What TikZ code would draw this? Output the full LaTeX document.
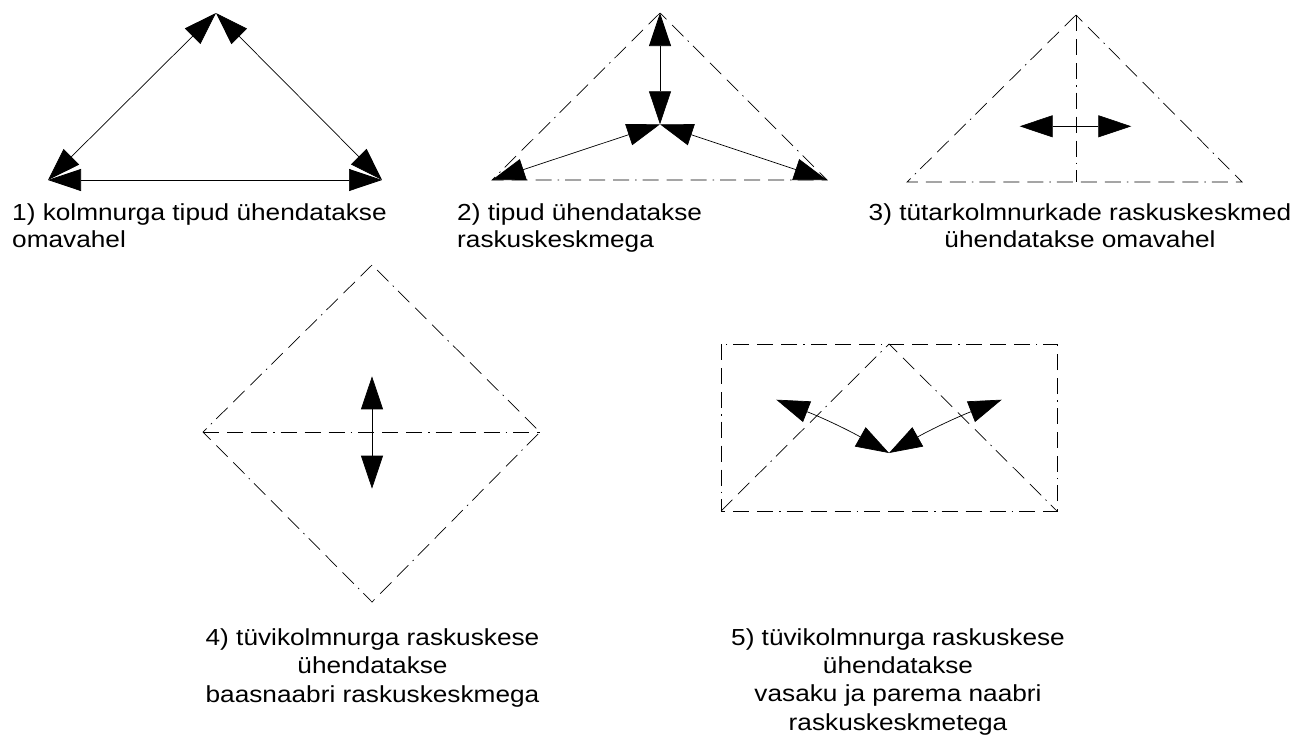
\documentclass[tikz,border=0pt]{standalone}
\usepackage{fontspec}
\setmainfont{Liberation Sans}
\newfontfamily\lblfont[FakeStretch=1.13]{Liberation Sans}
\usetikzlibrary{arrows.meta}
\begin{document}
\begin{tikzpicture}[x=1pt,y=-1pt,
  arr/.style={line width=0.7pt,{Triangle[length=33pt,width=22pt]}-{Triangle[length=33pt,width=22pt]}},
  dd/.style={line width=0.7pt,dash pattern=on 16pt off 8pt on 16pt off 8pt on 16pt off 6pt on 1.5pt off 6pt},
  lbl/.style={inner sep=0pt,font=\lblfont\fontsize{23.2}{26.7}\selectfont},
  lblb/.style={inner sep=0pt,font=\lblfont\fontsize{23.2}{28.3}\selectfont}]
\useasboundingbox (0,0) rectangle (1295,737);
% panel 1
\coordinate (A1) at (216,13);
\coordinate (B1) at (48,180);
\coordinate (C1) at (382,180);
\draw[arr] (A1) -- (B1);
\draw[arr] (A1) -- (C1);
\draw[arr] (B1) -- (C1);
\node[lbl,anchor=base west,align=left] (L1) at (12,247) {1) kolmnurga tipud ühendatakse\\omavahel};
% panel 2
\coordinate (A2) at (660,13);
\coordinate (B2) at (492,180);
\coordinate (C2) at (827,180);
\coordinate (G2) at (660,124.3);
\draw[dd] (A2) -- (B2) -- (C2) -- cycle;
\draw[arr] (G2) -- (A2);
\draw[arr] (G2) -- (B2);
\draw[arr] (G2) -- (C2);
\node[lbl,anchor=base west,align=left] (L2) at (457,247) {2) tipud ühendatakse\\raskuskeskmega};
% panel 3
\coordinate (A3) at (1076,15);
\coordinate (B3) at (907,182);
\coordinate (C3) at (1242,182);
\coordinate (M3) at (1076,182);
\coordinate (GL3) at (1019.7,126.3);
\coordinate (GR3) at (1131.3,126.3);
\draw[dd] (A3) -- (B3) -- (C3) -- cycle;
\draw[dd] (A3) -- (M3);
\draw[arr] (GL3) -- (GR3);
\node[lbl,anchor=base,align=center] (L3) at (1080,247) {3) tütarkolmnurkade raskuskeskmed\\ühendatakse omavahel};
% panel 4
\coordinate (T4) at (372,265);
\coordinate (W4) at (203,432);
\coordinate (E4) at (540,432);
\coordinate (D4) at (372,602);
\coordinate (GU4) at (372,376.3);
\coordinate (GD4) at (372,488.7);
\draw[dd] (T4) -- (W4) -- (D4) -- (E4) -- cycle;
\draw[dd] (W4) -- (E4);
\draw[arr] (GU4) -- (GD4);
\node[lblb,anchor=base,align=center] (L4) at (372.5,702) {4) tüvikolmnurga raskuskese\\ühendatakse\\baasnaabri raskuskeskmega};
% panel 5
\coordinate (R1) at (721,344);
\coordinate (R2) at (1057,511);
\coordinate (A5) at (889,344);
\coordinate (B5) at (721,511);
\coordinate (C5) at (1057,511);
\coordinate (GL5) at (776.3,399.7);
\coordinate (GM5) at (889,453);
\coordinate (GR5) at (1001.7,399.7);
\draw[dd] (R1) rectangle (R2);
\draw[dd] (B5) -- (A5) -- (C5);
\draw[arr] (GL5) to[bend left=4] (GM5);
\draw[arr] (GM5) to[bend left=4] (GR5);
\node[lblb,anchor=base,align=center] (L5) at (898,730) {5) tüvikolmnurga raskuskese\\ühendatakse\\vasaku ja parema naabri\\raskuskeskmetega};
\end{tikzpicture}
\end{document}
